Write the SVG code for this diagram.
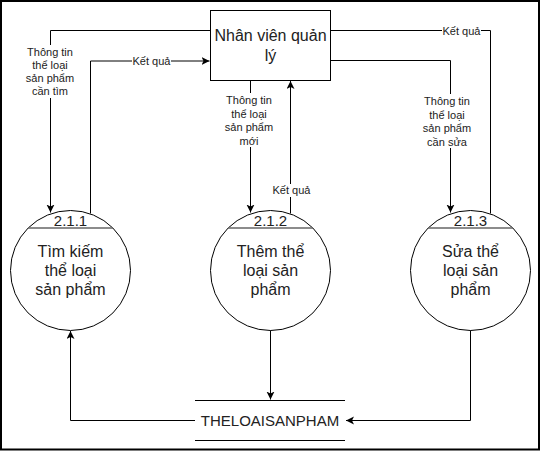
<svg xmlns="http://www.w3.org/2000/svg" width="541" height="451" viewBox="0 0 541 451">
<style>
.ln{fill:none;stroke:#000;stroke-width:1}
.node{fill:#fff;stroke:#000;stroke-width:1}
.t16{font-family:"Liberation Sans",Arial,sans-serif;font-size:16px;fill:#222;text-anchor:middle}
.t15{font-family:"Liberation Sans",Arial,sans-serif;font-size:15px;fill:#222;text-anchor:middle}
.t11{font-family:"Liberation Sans",Arial,sans-serif;font-size:11px;fill:#222;text-anchor:middle}
.bg{fill:#fff;stroke:none}
.div{stroke:#666;stroke-width:1.5}
</style>
<defs>
<marker id="arr" markerUnits="userSpaceOnUse" markerWidth="10" markerHeight="10" refX="8" refY="4" orient="auto">
<path d="M0,0 L8,4 L0,8 L2,4 Z" fill="#000"/>
</marker>
</defs>
<rect x="1" y="1" width="538" height="448.5" fill="#fff" stroke="#000" stroke-width="2"/>
<g id="connectors">
<path class="ln" d="M210,30.5 H50.5 V212.5" marker-end="url(#arr)"/>
<path class="ln" d="M90.5,213.5 V61 H209.5" marker-end="url(#arr)"/>
<path class="ln" d="M250.5,80 V212.5" marker-end="url(#arr)"/>
<path class="ln" d="M290.5,213.5 V81" marker-end="url(#arr)"/>
<path class="ln" d="M330,60.5 H450.5 V212.5" marker-end="url(#arr)"/>
<path class="ln" d="M490.5,213.5 V30.5 H330"/>
<path class="ln" d="M270.5,330 V399.5" marker-end="url(#arr)"/>
<path class="ln" d="M470.5,330 V420.5 H346" marker-end="url(#arr)"/>
<path class="ln" d="M195,420.5 H70.5 V331" marker-end="url(#arr)"/>
<g id="label-tim">
<rect class="bg" x="27" y="45" width="47" height="53"/>
<text class="t11" x="50" y="56">Thông tin</text>
<text class="t11" x="50" y="69">thể loại</text>
<text class="t11" x="50" y="82">sản phẩm</text>
<text class="t11" x="50" y="95">cần tìm</text>
</g>
<g id="label-kq1">
<rect class="bg" x="132" y="55" width="39" height="12"/>
<text class="t11" x="151.5" y="65">Kết quả</text>
</g>
<g id="label-moi">
<rect class="bg" x="225" y="93" width="48" height="54"/>
<text class="t11" x="249" y="104">Thông tin</text>
<text class="t11" x="249" y="117.5">thể loại</text>
<text class="t11" x="249" y="131">sản phẩm</text>
<text class="t11" x="249" y="144.5">mới</text>
</g>
<g id="label-kq2">
<rect class="bg" x="272" y="184" width="39" height="13"/>
<text class="t11" x="291.5" y="194">Kết quả</text>
</g>
<g id="label-sua">
<rect class="bg" x="423" y="94" width="48" height="54"/>
<text class="t11" x="447" y="105">Thông tin</text>
<text class="t11" x="447" y="118.5">thể loại</text>
<text class="t11" x="447" y="132">sản phẩm</text>
<text class="t11" x="447" y="145.5">cần sửa</text>
</g>
<g id="label-kq3">
<rect class="bg" x="442" y="24" width="39" height="13"/>
<text class="t11" x="461.5" y="34.5">Kết quả</text>
</g>
</g>
<g id="nhan-vien">
<rect class="node" x="210.5" y="10.5" width="120" height="70"/>
<text class="t16" x="270.5" y="41">Nhân viên quản</text>
<text class="t16" x="270.5" y="61">lý</text>
</g>
<g id="p211">
<circle class="node" cx="70.5" cy="270.5" r="60"/>
<line class="div" x1="28" y1="228" x2="113" y2="228"/>
<text class="t15" x="70.5" y="225.5">2.1.1</text>
<text class="t16" x="70.5" y="256.5">Tìm kiếm</text>
<text class="t16" x="70.5" y="275.5">thể loại</text>
<text class="t16" x="70.5" y="294.5">sản phẩm</text>
</g>
<g id="p212">
<circle class="node" cx="270.5" cy="270.5" r="60"/>
<line class="div" x1="228" y1="228" x2="313" y2="228"/>
<text class="t15" x="270.5" y="225.5">2.1.2</text>
<text class="t16" x="270.5" y="256.5">Thêm thể</text>
<text class="t16" x="270.5" y="275.5">loại sản</text>
<text class="t16" x="270.5" y="294.5">phẩm</text>
</g>
<g id="p213">
<circle class="node" cx="470.5" cy="270.5" r="60"/>
<line class="div" x1="428" y1="228" x2="513" y2="228"/>
<text class="t15" x="470.5" y="225.5">2.1.3</text>
<text class="t16" x="470.5" y="256.5">Sửa thể</text>
<text class="t16" x="470.5" y="275.5">loại sản</text>
<text class="t16" x="470.5" y="294.5">phẩm</text>
</g>
<g id="store">
<line class="ln" x1="195" y1="400.5" x2="345" y2="400.5"/>
<line class="ln" x1="195" y1="440.5" x2="345" y2="440.5"/>
<text class="t15" x="270" y="425.5">THELOAISANPHAM</text>
</g>
</svg>
